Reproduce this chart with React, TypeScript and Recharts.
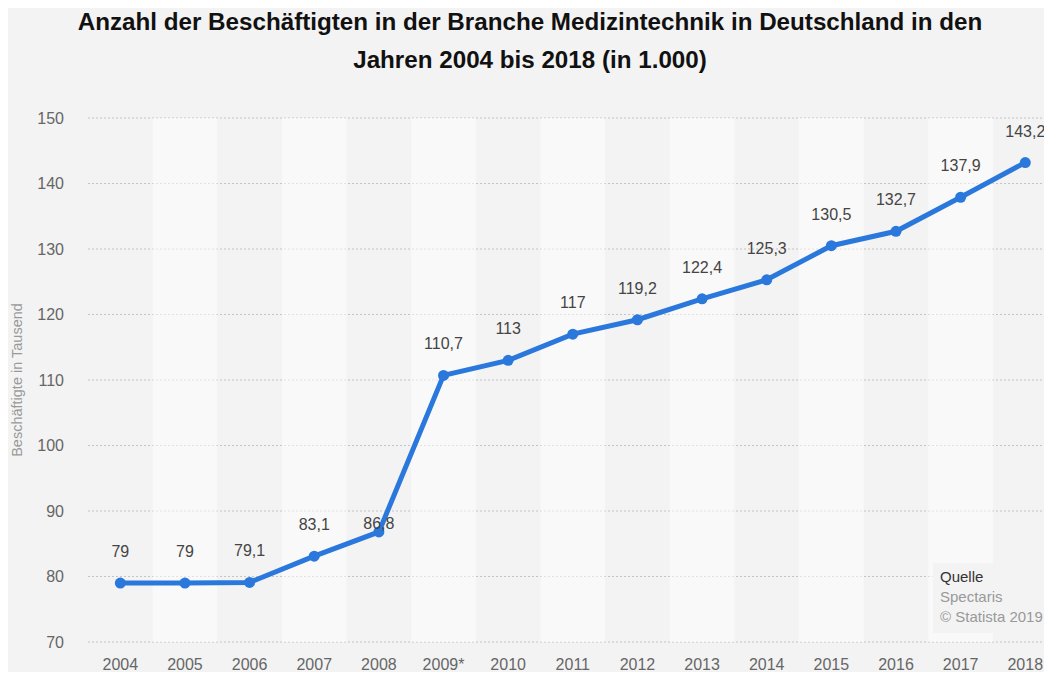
import {
  CartesianGrid,
  ComposedChart,
  LabelList,
  Line,
  ReferenceArea,
  XAxis,
  YAxis,
} from 'recharts'

const years = [
  '2004', '2005', '2006', '2007', '2008', '2009*', '2010', '2011',
  '2012', '2013', '2014', '2015', '2016', '2017', '2018',
]
const employees = [
  79, 79, 79.1, 83.1, 86.8, 110.7, 113, 117, 119.2, 122.4, 125.3, 130.5, 132.7, 137.9, 143.2,
]
const yTicks = [70, 80, 90, 100, 110, 120, 130, 140, 150]

const data = years.map((year, i) => ({ year, value: employees[i] }))

const FONT = '"Liberation Sans", Arial, Helvetica, sans-serif'
const BLUE = '#2a78dc'

function fmt(n: number) {
  return String(n).replace('.', ',')
}

// value labels above the dots; 2008 label sits tight on the line in the original
function ValueLabel(props: any) {
  const { x, y, value, index } = props
  const lift = index === 4 ? 3 : 26
  return (
    <text x={x} y={y - lift} textAnchor="middle" fontSize={16} fill="#444" fontFamily={FONT}>
      {fmt(Number(value))}
    </text>
  )
}

export default function App() {
  return (
    <div
      style={{
        position: 'relative',
        width: 1044,
        height: 664,
        background: '#f3f3f3',
        overflow: 'hidden',
        fontFamily: FONT,
      }}
    >
      <div
        style={{
          position: 'absolute',
          top: -5,
          left: 0,
          width: 1044,
          textAlign: 'center',
          fontWeight: 'bold',
          fontSize: 24.2,
          lineHeight: '38px',
          color: '#111',
        }}
      >
        Anzahl der Beschäftigten in der Branche Medizintechnik in Deutschland in den
        <br />
        Jahren 2004 bis 2018 (in 1.000)
      </div>

      <ComposedChart
        width={1060}
        height={664}
        data={data}
        margin={{ top: 110, right: 10.4, bottom: 0, left: 0 }}
      >
        {years
          .filter((_, i) => i % 2 === 1)
          .map((y) => (
            <ReferenceArea
              key={y}
              x1={y}
              x2={y}
              fill="#ffffff"
              fillOpacity={0.5}
              stroke="none"
            />
          ))}
        <CartesianGrid vertical={false} stroke="#c4c4c4" strokeDasharray="2 2" />
        <XAxis
          dataKey="year"
          scale="band"
          axisLine={false}
          tickLine={false}
          tickSize={0}
          tickMargin={17}
          height={30}
          interval={0}
          tick={{ fontSize: 16, fill: '#666', fontFamily: FONT }}
        />
        <YAxis
          domain={[70, 150]}
          ticks={yTicks}
          axisLine={false}
          tickLine={false}
          tickSize={0}
          tickMargin={24}
          width={80}
          tick={{ fontSize: 16, fill: '#666', fontFamily: FONT }}
          label={{
            content: () => (
              <text
                x={9}
                y={372}
                transform="rotate(-90 9 372)"
                textAnchor="middle"
                dominantBaseline="central"
                fontSize={14.5}
                fill="#999"
                fontFamily={FONT}
              >
                Beschäftigte in Tausend
              </text>
            ),
          }}
        />
        <Line
          type="linear"
          dataKey="value"
          stroke={BLUE}
          strokeWidth={5}
          dot={{ r: 5.5, fill: BLUE, stroke: BLUE, strokeWidth: 0 }}
          activeDot={false}
          isAnimationActive={false}
        >
          <LabelList dataKey="value" content={ValueLabel} />
        </Line>
      </ComposedChart>

      {/* source box */}
      <div
        style={{
          position: 'absolute',
          left: 925,
          top: 555,
          width: 112,
          height: 70,
          background: '#f3f3f3',
          fontSize: 15,
          lineHeight: '20px',
          paddingLeft: 7,
          paddingTop: 4,
          boxSizing: 'border-box',
        }}
      >
        <div style={{ color: '#333' }}>Quelle</div>
        <div style={{ color: '#999' }}>Spectaris</div>
        <div style={{ color: '#999' }}>© Statista 2019</div>
      </div>
    </div>
  )
}
